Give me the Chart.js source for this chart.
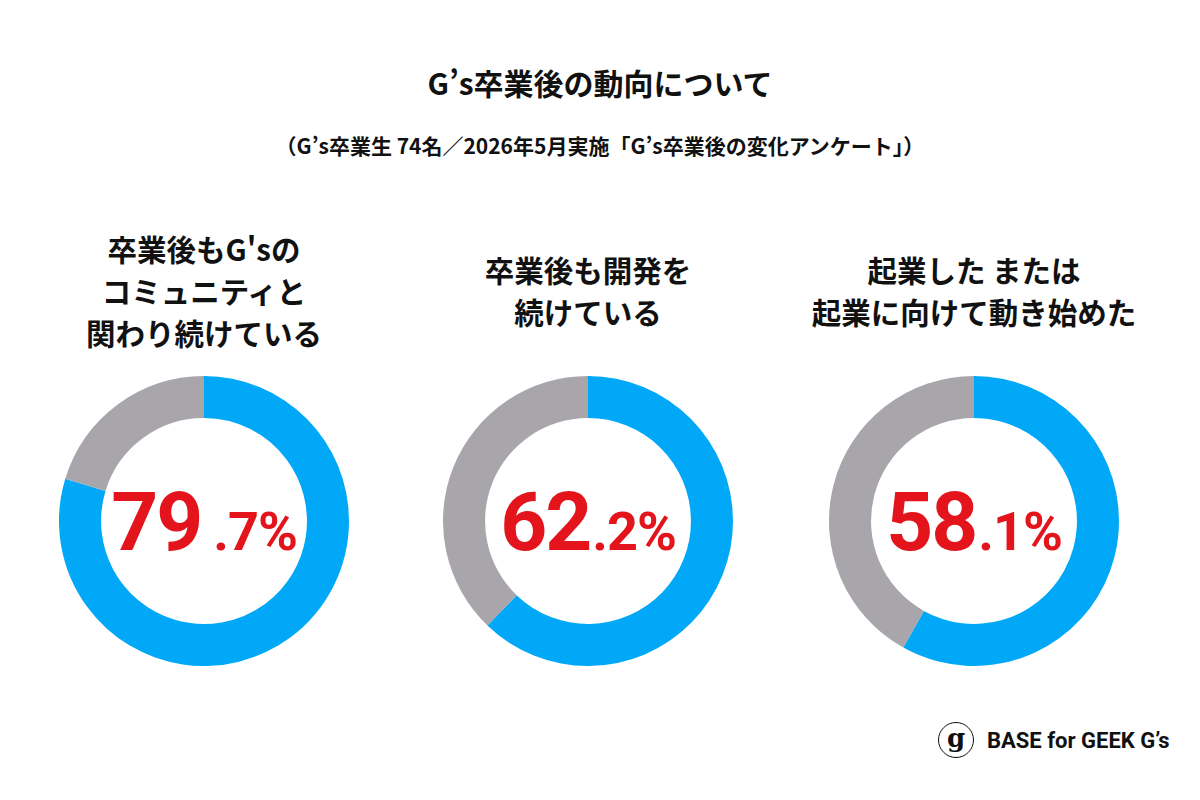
<!DOCTYPE html>
<html lang="ja">
<head>
<meta charset="utf-8">
<title>G's卒業後の動向について</title>
<script src="https://cdn.jsdelivr.net/npm/chart.js@4.4.1/dist/chart.umd.min.js"></script>
<style>
    html, body { margin: 0; padding: 0; background: #fff; }
    body { width: 1200px; height: 800px; position: relative; overflow: hidden; font-family: "Noto Sans CJK JP", "Noto Sans", sans-serif; color: #111; }
    .title { position: absolute; left: 0; width: 1200px; top: 61px; text-align: center; font-size: 30px; font-weight: 700; line-height: 42px; }
    .subtitle { position: absolute; left: 0; width: 1200px; top: 130px; text-align: center; font-size: 21px; font-weight: 700; line-height: 30px; }
    .heading { position: absolute; width: 400px; height: 140px; top: 220px; display: flex; align-items: center; justify-content: center; text-align: center; font-size: 29.5px; font-weight: 700; line-height: 42px; }
    .donut { position: absolute; width: 290px; height: 290px; }
    .value { position: absolute; width: 300px; top: 481px; text-align: center; color: #e3141c; font-family: Roboto, "Liberation Sans", sans-serif; font-weight: 700; font-size: 82px; line-height: 1; letter-spacing: -2px; white-space: nowrap; }
    .value .dec { font-size: 54px; letter-spacing: -1px; }
    .logo { position: absolute; left: 938px; top: 721px; height: 38px; display: flex; align-items: center; }
    .logo .mark { width: 36px; height: 36px; border: 1.6px solid #111; border-radius: 50%; box-sizing: border-box; display: flex; align-items: center; justify-content: center; font-family: "DejaVu Serif", serif; font-weight: 700; font-size: 26px; line-height: 1; padding-bottom: 5px; }
    .logo .name { margin-left: 13px; font-family: Roboto, sans-serif; font-weight: 700; font-size: 22px; color: #111; }
</style>
</head>
<body>
<div class="title">G’s卒業後の動向について</div>
<div class="subtitle">（G’s卒業生 74名／2026年5月実施「G’s卒業後の変化アンケート」）</div>

<div id="charts"></div>

<div class="logo"><div class="mark">g</div><div class="name">BASE for GEEK G’s</div></div>

<script>
// survey items (one donut each)
const categories = [
    ['卒業後もG\'sの', 'コミュニティと', '関わり続けている'],
    ['卒業後も開発を', '続けている'],
    ['起業した または', '起業に向けて動き始めた']
];
const yesValues = [79.7, 62.2, 58.1];
const otherValues = [20.3, 37.8, 41.9];
const seriesLabels = ['該当する', 'その他'];

const centersX = [204, 588, 974];
const centerY = 521;
const blue = '#00a8f7';
const gray = '#a8a6aa';

const root = document.getElementById('charts');

categories.forEach((lines, i) => {
    const cx = centersX[i];

    const head = document.createElement('div');
    head.className = 'heading';
    head.style.left = (cx - 200) + 'px';
    head.innerHTML = '<div>' + lines.join('<br>') + '</div>';
    root.appendChild(head);

    const box = document.createElement('div');
    box.className = 'donut';
    box.style.left = (cx - 145) + 'px';
    box.style.top = (centerY - 145) + 'px';
    const canvas = document.createElement('canvas');
    box.appendChild(canvas);
    root.appendChild(box);

    new Chart(canvas, {
        type: 'doughnut',
        data: {
            labels: seriesLabels,
            datasets: [{
                data: [yesValues[i], otherValues[i]],
                backgroundColor: [blue, gray],
                borderWidth: 0,
                hoverOffset: 0
            }]
        },
        options: {
            responsive: true,
            maintainAspectRatio: false,
            animation: false,
            cutout: '71%',
            layout: { padding: 0 },
            plugins: { legend: { display: false }, tooltip: { enabled: false } }
        }
    });

    // big percentage label in the middle
    const parts = yesValues[i].toFixed(1).split('.');
    const val = document.createElement('div');
    val.className = 'value';
    val.style.left = (cx - 150) + 'px';
    val.innerHTML = parts[0] + '<span class="dec"' + (i === 0 ? ' style="margin-left:12px"' : ' style="margin-left:2px"') + '>.' + parts[1] + '%</span>';
    root.appendChild(val);
});
</script>
</body>
</html>
